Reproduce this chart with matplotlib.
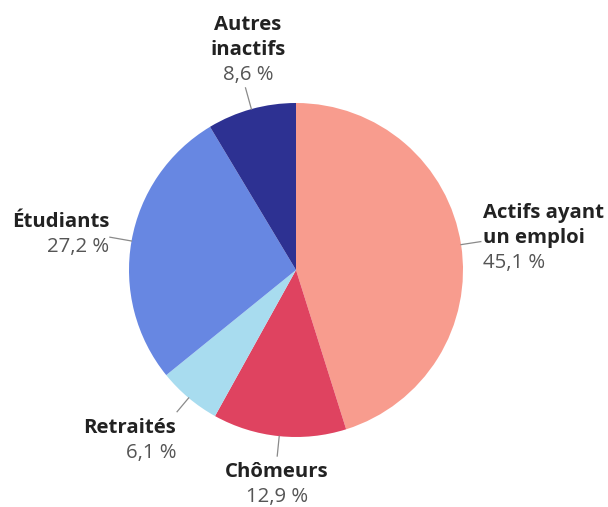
import matplotlib.pyplot as plt
import numpy as np

plt.rcParams["font.family"] = ["Open Sans", "DejaVu Sans"]

# Données
categories = ["Actifs ayant\nun emploi", "Chômeurs", "Retraités", "Étudiants", "Autres\ninactifs"]
shares = [45.1, 12.9, 6.1, 27.2, 8.6]
value_labels = ["45,1 %", "12,9 %", "6,1 %", "27,2 %", "8,6 %"]
colors = ["#F89C8E", "#DF4360", "#A8DCEF", "#6787E2", "#2D3192"]

W, H = 608, 507
fig = plt.figure(figsize=(W / 100, H / 100), dpi=100)
ax = fig.add_axes([0, 0, 1, 1])

cx, cy, r = 296, H - 270, 167
wedges, _ = ax.pie(shares, colors=colors, startangle=90, counterclock=False,
                   center=(cx, cy), radius=r, frame=True,
                   wedgeprops=dict(linewidth=0))
ax.set_xlim(0, W)
ax.set_ylim(0, H)
ax.set_aspect("equal")
ax.axis("off")

# placement des étiquettes (px depuis le haut): x, y première ligne, alignement, trait
layout = [
    (483, 213, "left", 20),
    (277, 472, "center", 20),
    (176, 428, "right", 18),
    (109, 222, "right", 22),
    (248, 25, "center", 22),
]
line_h = 25
fs = 14.7
for w, cat, val, (tx, ty, ha, ll) in zip(wedges, categories, value_labels, layout):
    ang = np.deg2rad((w.theta1 + w.theta2) / 2)
    x0, y0 = cx + r * np.cos(ang), cy + r * np.sin(ang)
    x1, y1 = cx + (r + ll) * np.cos(ang), cy + (r + ll) * np.sin(ang)
    ax.plot([x0, x1], [y0, y1], color="#8a8a8a", lw=0.9)
    lines = cat.split("\n")
    for i, ln in enumerate(lines):
        ax.text(tx, H - (ty + i * line_h), ln, ha=ha, va="center", fontsize=fs,
                fontweight="bold", color="#222222")
    ax.text(tx, H - (ty + len(lines) * line_h), val, ha=ha, va="center",
            fontsize=fs, color="#555555")

fig.savefig("out.png", dpi=100)
